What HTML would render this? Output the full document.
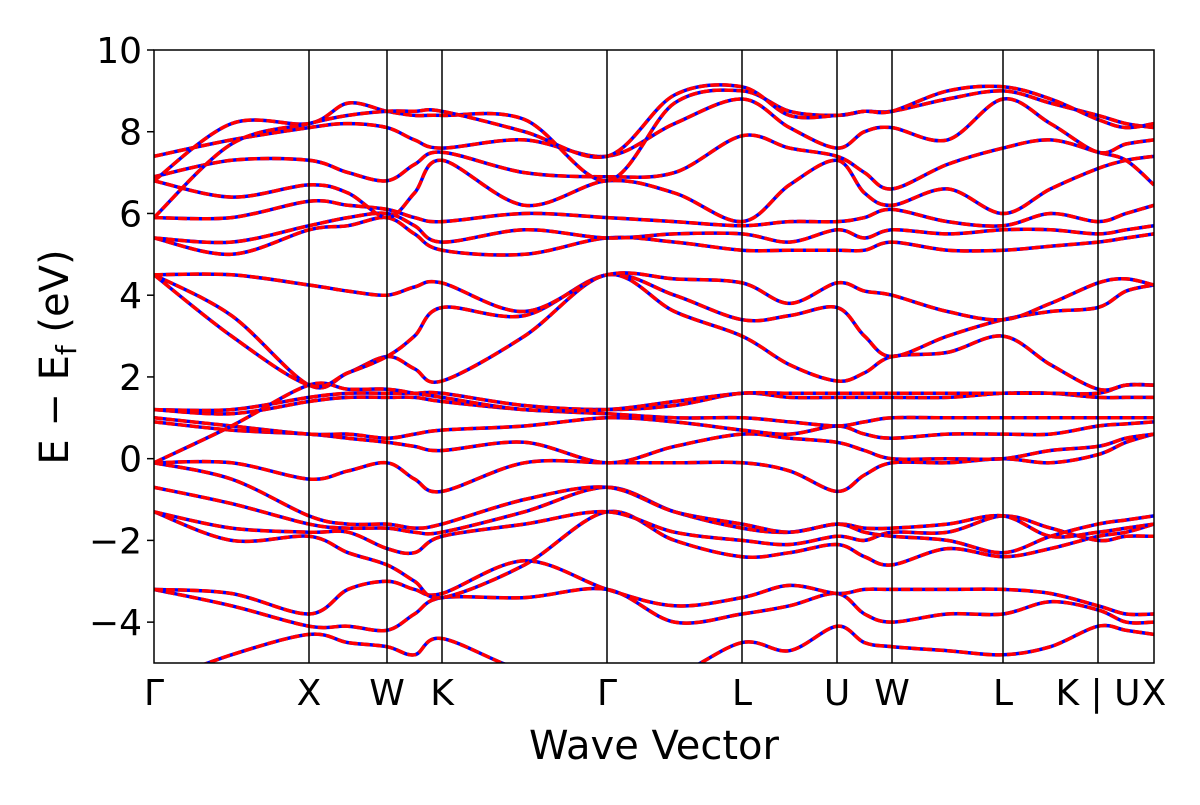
<!DOCTYPE html>
<html><head><meta charset="utf-8"><style>
html,body{margin:0;padding:0;background:#fff;}
svg text{font-family:"DejaVu Sans","Liberation Sans",sans-serif;fill:#000;}
</style></head><body>
<svg id="chart" width="1200" height="800" viewBox="0 0 1200 800" xmlns="http://www.w3.org/2000/svg">
<defs><clipPath id="clip"><rect x="154" y="50" width="1000" height="613"/></clipPath></defs>
<rect x="0" y="0" width="1200" height="800" fill="#fff"/>
<g id="bands" clip-path="url(#clip)"></g>
<g id="vlines"></g>
<rect x="154" y="50" width="1000" height="613" fill="none" stroke="#000" stroke-width="1.5"/>
<g id="yaxis"></g>
<g id="xaxis"></g>
<text x="654" y="759" font-size="40" text-anchor="middle">Wave Vector</text>
<text transform="translate(68,357) rotate(-90)" font-size="40" text-anchor="middle">E − E<tspan font-size="28" dy="8">f</tspan><tspan dy="-8"> (eV)</tspan></text>
</svg>
<script>
const kLabels = ["Γ","X","W","K","Γ","L","U","W","L","K | U","X"];
const kPositions = [0,155,233,288,453,588,683,738,849,944,1000];
const yTicks = [-4,-2,0,2,4,6,8,10];
const bandData = [
[-5.5,-4.8,-4.3,-4.5,-4.6,-4.8,-4.4,-5.2,-5.5,-5.3,-4.5,-4.7,-4.1,-4.5,-4.6,-4.7,-4.8,-4.6,-4.1,-4.2,-4.3],
[-3.2,-3.6,-4.1,-4.1,-4.2,-3.8,-3.4,-3.4,-3.2,-4.0,-3.8,-3.6,-3.3,-3.8,-4.0,-3.8,-3.8,-3.5,-3.7,-4.0,-4.0],
[-3.2,-3.3,-3.8,-3.2,-3.0,-3.2,-3.3,-2.5,-3.2,-3.6,-3.4,-3.1,-3.3,-3.2,-3.2,-3.2,-3.2,-3.3,-3.6,-3.8,-3.8],
[-1.3,-2.0,-1.9,-2.3,-2.6,-3.0,-3.4,-2.6,-1.3,-2.0,-2.4,-2.3,-2.1,-2.4,-2.6,-2.2,-2.4,-2.2,-1.9,-1.8,-1.6],
[-1.3,-1.7,-1.8,-1.8,-2.2,-2.3,-1.9,-1.6,-1.3,-1.8,-2.0,-2.1,-1.9,-2.0,-1.8,-1.8,-1.4,-1.7,-2.0,-1.9,-1.9],
[-0.7,-1.1,-1.6,-1.7,-1.7,-1.8,-1.8,-1.3,-0.7,-1.3,-1.7,-1.8,-1.6,-1.7,-1.7,-1.6,-1.4,-1.9,-1.8,-1.7,-1.6],
[-0.1,-0.5,-1.4,-1.6,-1.6,-1.7,-1.6,-1.0,-0.7,-1.3,-1.6,-1.8,-1.6,-1.8,-1.9,-2.0,-2.3,-1.9,-1.6,-1.5,-1.4],
[-0.1,-0.1,-0.5,-0.3,-0.1,-0.5,-0.8,-0.1,-0.1,-0.1,-0.1,-0.3,-0.8,-0.4,-0.1,-0.1,0.0,-0.1,0.1,0.4,0.6],
[0.9,0.7,0.6,0.5,0.4,0.3,0.2,0.4,-0.1,0.3,0.6,0.5,0.4,0.2,0.0,0.0,0.0,0.2,0.3,0.5,0.6],
[1.0,0.8,0.6,0.6,0.5,0.6,0.7,0.8,1.0,0.9,0.7,0.6,0.8,0.6,0.5,0.6,0.6,0.6,0.8,0.85,0.9],
[1.2,1.1,1.4,1.5,1.5,1.5,1.4,1.2,1.1,1.0,1.0,0.9,0.8,0.9,1.0,1.0,1.0,1.0,1.0,1.0,1.0],
[1.2,1.2,1.5,1.6,1.6,1.6,1.6,1.3,1.2,1.3,1.6,1.5,1.5,1.5,1.5,1.5,1.6,1.6,1.5,1.5,1.5],
[-0.1,0.8,1.8,1.7,1.7,1.6,1.5,1.2,1.2,1.4,1.6,1.6,1.6,1.6,1.6,1.6,1.6,1.6,1.6,1.8,1.8],
[4.5,3.5,1.8,2.1,2.5,2.2,1.9,3.0,4.5,3.6,3.0,2.3,1.9,2.1,2.5,2.6,3.0,2.3,1.7,1.8,1.8],
[4.5,3.0,1.8,2.1,2.5,3.0,3.7,3.5,4.5,4.0,3.4,3.5,3.7,3.0,2.5,3.0,3.4,3.6,3.7,4.1,4.25],
[4.5,4.5,4.25,4.1,4.0,4.2,4.3,3.6,4.5,4.4,4.3,3.8,4.3,4.1,4.0,3.6,3.4,3.8,4.3,4.4,4.25],
[5.4,5.0,5.6,5.7,5.9,5.5,5.1,5.0,5.4,5.3,5.1,5.1,5.1,5.1,5.3,5.1,5.1,5.2,5.3,5.4,5.5],
[5.4,5.3,5.7,5.9,6.0,5.7,5.3,5.6,5.4,5.5,5.5,5.3,5.6,5.4,5.6,5.5,5.6,5.6,5.5,5.6,5.7],
[5.9,5.9,6.3,6.2,6.1,5.9,5.8,6.0,5.9,5.8,5.7,5.8,5.8,5.9,6.1,5.8,5.7,6.0,5.8,6.0,6.2],
[6.8,6.4,6.7,6.5,5.9,6.5,7.3,6.2,6.8,6.5,5.8,6.7,7.3,6.5,6.2,6.6,6.0,6.6,7.1,7.3,7.4],
[6.9,7.3,7.3,7.0,6.8,7.2,7.5,7.0,6.9,7.0,7.9,7.6,7.4,7.0,6.6,7.2,7.6,7.8,7.5,7.3,6.7],
[7.4,7.8,8.1,8.2,8.1,7.8,7.6,7.8,7.4,8.2,8.8,8.1,7.6,8.0,8.1,7.8,8.8,8.2,7.5,7.7,7.8],
[6.8,8.2,8.2,8.7,8.5,8.4,8.4,8.3,6.8,8.7,9.0,8.5,8.4,8.5,8.5,8.8,9.0,8.7,8.4,8.2,8.1],
[5.9,7.7,8.2,8.4,8.5,8.5,8.5,8.0,7.4,8.9,9.1,8.4,8.4,8.5,8.5,9.0,9.1,8.8,8.3,8.1,8.2]
];
const X0=154,W=1000,Y0=50,H=613,EMIN=-5,EMAX=10;
const xs = k => X0 + k/1000*W;
const ys = e => Y0 + (EMAX-e)/(EMAX-EMIN)*H;
const sampleK=[];
for(let i=0;i<kPositions.length;i++){
  sampleK.push(kPositions[i]);
  if(i<kPositions.length-1) sampleK.push((kPositions[i]+kPositions[i+1])/2);
}
const NS="http://www.w3.org/2000/svg";
function pathFor(vals){
  const p=vals.map((v,i)=>[xs(sampleK[i]),ys(v)]);
  let d="M"+p[0][0].toFixed(1)+","+p[0][1].toFixed(1);
  for(let i=0;i<p.length-1;i++){
    const a=p[Math.max(0,i-1)],b=p[i],c=p[i+1],e=p[Math.min(p.length-1,i+2)];
    const c1x=b[0]+(c[0]-a[0])/6,c1y=b[1]+(c[1]-a[1])/6;
    const c2x=c[0]-(e[0]-b[0])/6,c2y=c[1]-(e[1]-b[1])/6;
    d+=" C"+c1x.toFixed(1)+","+c1y.toFixed(1)+" "+c2x.toFixed(1)+","+c2y.toFixed(1)+" "+c[0].toFixed(1)+","+c[1].toFixed(1);
  }
  return d;
}
const bg=document.getElementById("bands");
bandData.forEach((vals,i)=>{
  const d=pathFor(vals);
  const b=document.createElementNS(NS,"path");
  b.setAttribute("d",d);b.setAttribute("fill","none");b.setAttribute("stroke","#0000ff");b.setAttribute("stroke-width","3.5");
  
  
  bg.appendChild(b);
  const r=document.createElementNS(NS,"path");
  r.setAttribute("d",d);r.setAttribute("fill","none");r.setAttribute("stroke","#ff0000");r.setAttribute("stroke-width","3.5");r.setAttribute("stroke-dasharray","9,3");
  
  
  bg.appendChild(r);
});
const vl=document.getElementById("vlines"), xa=document.getElementById("xaxis");
kPositions.forEach((k,i)=>{
  const x=xs(k);
  if(i>0&&i<kPositions.length-1){
    const l=document.createElementNS(NS,"line");
    l.setAttribute("x1",x);l.setAttribute("x2",x);l.setAttribute("y1",Y0);l.setAttribute("y2",Y0+H);
    l.setAttribute("stroke","#000");l.setAttribute("stroke-width","1.5");
    
    
    vl.appendChild(l);
  }
  const t=document.createElementNS(NS,"text");
  t.setAttribute("x",x);t.setAttribute("y",Y0+H+42);t.setAttribute("font-size","36");t.setAttribute("text-anchor","middle");
  t.textContent=kLabels[i];
  
  
  xa.appendChild(t);
});
const ya=document.getElementById("yaxis");
yTicks.forEach(v=>{
  const y=ys(v);
  const l=document.createElementNS(NS,"line");
  l.setAttribute("x1",X0-7);l.setAttribute("x2",X0);l.setAttribute("y1",y);l.setAttribute("y2",y);
  l.setAttribute("stroke","#000");l.setAttribute("stroke-width","1.5");
  
  
  ya.appendChild(l);
  const t=document.createElementNS(NS,"text");
  t.setAttribute("x",X0-12);t.setAttribute("y",y+13);t.setAttribute("font-size","36");t.setAttribute("text-anchor","end");
  t.textContent=(v<0?"−"+(-v):String(v));
  
  
  ya.appendChild(t);
});
</script>
</body></html>
